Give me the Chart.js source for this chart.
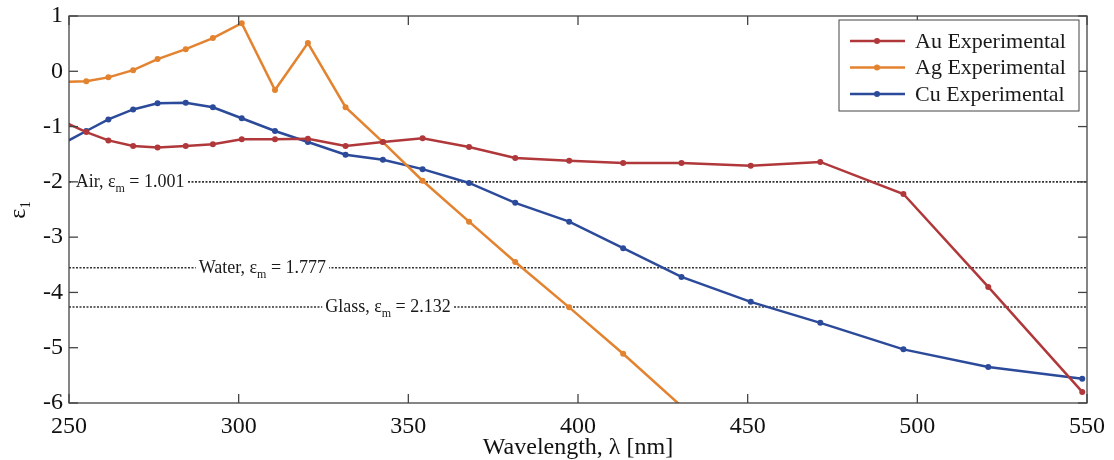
<!DOCTYPE html>
<html>
<head>
<meta charset="utf-8">
<script src="https://cdn.jsdelivr.net/npm/chart.js@4.4.1/dist/chart.umd.min.js"></script>
<style>
body { margin: 0; background: #fff; }
</style>
</head>
<body>
<canvas id="chart" width="1114" height="460"></canvas>
<script>
// wavelengths (nm) of the measured points
var wavelength = [249.0, 255.1, 261.6, 268.9, 276.1, 284.4, 292.4, 300.9, 310.7, 320.4, 331.5, 342.5,
                  354.2, 367.9, 381.5, 397.4, 413.3, 430.5, 450.9, 471.4, 495.9, 520.9, 548.6];

var auEps = [-0.93, -1.10, -1.25, -1.35, -1.38, -1.35, -1.32, -1.23, -1.23, -1.22, -1.35, -1.28,
             -1.21, -1.37, -1.57, -1.62, -1.66, -1.66, -1.71, -1.64, -2.22, -3.90, -5.80];
var agEps = [-0.19, -0.18, -0.11, 0.02, 0.22, 0.40, 0.60, 0.87, -0.34, 0.51, -0.65, -1.28,
             -1.98, -2.72, -3.45, -4.27, -5.11, -6.06, null, null, null, null, null];
var cuEps = [-1.28, -1.08, -0.87, -0.69, -0.58, -0.57, -0.65, -0.85, -1.08, -1.28, -1.51, -1.60,
             -1.77, -2.02, -2.38, -2.72, -3.20, -3.72, -4.17, -4.55, -5.03, -5.35, -5.56];

var seriesNames = ['Au Experimental', 'Ag Experimental', 'Cu Experimental'];
var seriesColors = ['#b0383b', '#e3822f', '#2b4a9a'];

// surrounding media, resonance where eps1 = -2 * eps_m
var mediaNames = ['Air', 'Water', 'Glass'];
var mediaEps = ['1.001', '1.777', '2.132'];
var mediaLabelAt = [268, 307, 344];   // wavelength where the label sits

var xTicks = [250, 300, 350, 400, 450, 500, 550];
var yTicks = [1, 0, -1, -2, -3, -4, -5, -6];

var serif = '"Liberation Serif", "Times New Roman", serif';

function pts(ys) {
  return wavelength.map(function(w, i) { return { x: w, y: ys[i] }; });
}

var datasets = [auEps, agEps, cuEps].map(function(ys, i) {
  return {
    label: seriesNames[i],
    data: pts(ys),
    borderColor: seriesColors[i],
    backgroundColor: seriesColors[i],
    borderWidth: 2.5,
    pointRadius: 3,
    pointBorderWidth: 0,
    clip: 0,
    order: 1
  };
});

mediaEps.forEach(function(e, i) {
  var v = -2 * parseFloat(e);
  datasets.push({
    label: mediaNames[i],
    data: [{ x: xTicks[0], y: v }, { x: xTicks[xTicks.length - 1], y: v }],
    borderColor: '#333',
    borderWidth: 1.7,
    borderDash: [2, 1.5],
    pointRadius: 0,
    order: 5
  });
});

function line(c, x1, y1, x2, y2) {
  c.beginPath(); c.moveTo(x1, y1); c.lineTo(x2, y2); c.stroke();
}

var extrasPlugin = {
  id: 'extras',
  afterDatasetsDraw: function(chart) {
    var c = chart.ctx, a = chart.chartArea;
    var xs = chart.scales.x, ys = chart.scales.y;
    c.save();

    // labels on the medium lines
    c.textBaseline = 'alphabetic';
    mediaNames.forEach(function(n, i) {
      var big = '18px ' + serif, small = '12px ' + serif;
      var p1 = n + ', \u03b5', p2 = 'm', p3 = ' = ' + mediaEps[i];
      c.font = big; var w1 = c.measureText(p1).width, w3 = c.measureText(p3).width;
      c.font = small; var w2 = c.measureText(p2).width;
      var w = w1 + w2 + w3;
      var cx = xs.getPixelForValue(mediaLabelAt[i]);
      var cy = ys.getPixelForValue(-2 * parseFloat(mediaEps[i]));
      var x0 = cx - w / 2;
      c.fillStyle = '#fff';
      c.fillRect(x0 - 3, cy - 9, w + 6, 18);
      c.fillStyle = '#1a1a1a';
      c.font = big; c.fillText(p1, x0, cy + 5);
      c.font = small; c.fillText(p2, x0 + w1, cy + 10);
      c.font = big; c.fillText(p3, x0 + w1 + w2, cy + 5);
    });

    // box and inward ticks
    c.strokeStyle = '#444';
    c.lineWidth = 1.3;
    c.strokeRect(a.left, a.top, a.right - a.left, a.bottom - a.top);
    xTicks.forEach(function(v) {
      var px = xs.getPixelForValue(v);
      line(c, px, a.bottom, px, a.bottom - 9);
      line(c, px, a.top, px, a.top + 9);
    });
    yTicks.forEach(function(v) {
      var py = ys.getPixelForValue(v);
      line(c, a.left, py, a.left + 9, py);
      line(c, a.right, py, a.right - 9, py);
    });

    // legend
    var lx = a.right - 248, ly = a.top + 4, lw = 240, lh = 91;
    c.fillStyle = '#fff';
    c.fillRect(lx, ly, lw, lh);
    c.lineWidth = 1;
    c.strokeRect(lx, ly, lw, lh);
    c.font = '22px ' + serif;
    c.textBaseline = 'middle';
    seriesNames.forEach(function(n, i) {
      var y = ly + 21 + i * 26.5;
      c.strokeStyle = seriesColors[i];
      c.lineWidth = 2.5;
      line(c, lx + 11, y, lx + 66, y);
      c.fillStyle = seriesColors[i];
      c.beginPath(); c.arc(lx + 38, y, 3, 0, Math.PI * 2); c.fill();
      c.fillStyle = '#1a1a1a';
      c.fillText(n, lx + 76, y + 1);
    });
    c.restore();
  }
};

var ctx = document.getElementById('chart');
var myChart = new Chart(ctx, {
  type: 'line',
  data: { datasets: datasets },
  plugins: [extrasPlugin],
  options: {
    responsive: false,
    animation: false,
    layout: { padding: { top: 16, right: 22, left: 0, bottom: 0 } },
    plugins: {
      legend: { display: false },
      tooltip: { enabled: false }
    },
    scales: {
      x: {
        type: 'linear',
        min: xTicks[0],
        max: xTicks[xTicks.length - 1],
        afterBuildTicks: function(s) { s.ticks = xTicks.map(function(v) { return { value: v }; }); },
        afterFit: function(s) { s.height = 57; },
        grid: { display: false, drawTicks: false },
        border: { display: false },
        ticks: { autoSkip: false, maxRotation: 0, padding: 9, color: '#111', font: { family: serif, size: 24 } },
        title: { display: true, text: 'Wavelength, \u03bb [nm]', color: '#111', padding: { top: 0, bottom: -2 }, font: { family: serif, size: 24 } }
      },
      y: {
        min: yTicks[yTicks.length - 1],
        max: yTicks[0],
        afterBuildTicks: function(s) { s.ticks = yTicks.map(function(v) { return { value: v }; }); },
        afterFit: function(s) { s.width = 69; s.paddingTop = 0; s.paddingBottom = 0; },
        grid: { display: false, drawTicks: false },
        border: { display: false },
        ticks: { autoSkip: false, padding: 6, color: '#111', font: { family: serif, size: 24 } },
        title: { display: true, text: '\u03b5\u2081', color: '#111', padding: 4, font: { family: serif, size: 24 } }
      }
    }
  }
});
</script>
</body>
</html>
